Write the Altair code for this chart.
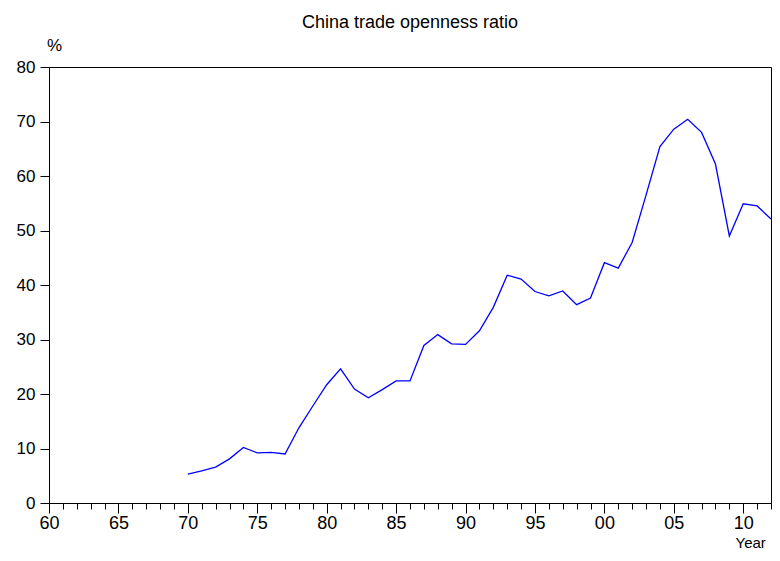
import altair as alt
import pandas as pd

years = list(range(1970, 2013))
openness = [5.3, 5.9, 6.6, 8.1, 10.2,
            9.2, 9.3, 9.0, 13.8, 17.8,
            21.7, 24.6, 20.9, 19.3, 20.8,
            22.4, 22.4, 28.9, 30.9, 29.2,
            29.1, 31.6, 35.9, 41.8, 41.1,
            38.8, 38.0, 38.9, 36.4, 37.6,
            44.1, 43.1, 47.8, 56.5, 65.4,
            68.6, 70.4, 68.0, 62.2, 49.0,
            54.9, 54.5, 52.1]
x_ticks = list(range(1960, 2013))
y_ticks = [0, 10, 20, 30, 40, 50, 60, 70, 80]

df = pd.DataFrame({"year": years, "ratio": openness})

FONT = "Liberation Sans"

chart = alt.Chart(df).mark_line(color="#0000FF", strokeWidth=1.3).encode(
    x=alt.X(
        "year:Q",
        scale=alt.Scale(domain=[1960, 2012], nice=False, zero=False),
        axis=alt.Axis(
            values=x_ticks,
            labelExpr="datum.value % 5 == 0 ? format(datum.value % 100, '02d') : ''",
            tickSize={"condition": {"test": "datum.value % 5 == 0", "value": 10}, "value": 6},
            labelOverlap=False,
            labelFlush=False,
            labelPadding=1,
            labelFontSize=18,
            labelFont=FONT,
            labelColor="black",
            tickColor="black",
            domainColor="black",
            grid=False,
            title="Year",
            titleFont=FONT,
            titleFontSize=15,
            titleFontWeight="normal",
            titleColor="black",
            titleAlign="left",
            titleBaseline="alphabetic",
            titleAnchor="start",
            titleX=686,
            titleY=44,
        ),
    ),
    y=alt.Y(
        "ratio:Q",
        scale=alt.Scale(domain=[0, 80], nice=False),
        axis=alt.Axis(
            values=y_ticks,
            tickSize=9,
            labelPadding=5,
            labelFontSize=17,
            labelFont=FONT,
            labelColor="black",
            tickColor="black",
            domainColor="black",
            grid=False,
            title="%",
            titleFont=FONT,
            titleFontSize=17,
            titleFontWeight="normal",
            titleColor="black",
            titleAngle=0,
            titleAlign="center",
            titleBaseline="alphabetic",
            titleX=5,
            titleY=-17,
        ),
    ),
).properties(
    width=722,
    height=436,
    title=alt.Title(
        "China trade openness ratio",
        fontSize=18,
        font=FONT,
        fontWeight="normal",
        color="black",
        anchor="middle",
        offset=4,
    ),
    autosize=alt.AutoSizeParams(type="none"),
    padding={"left": 41, "top": 59, "right": 1, "bottom": 46},
).configure(
    background="white"
).configure_view(
    stroke="black", strokeWidth=1
)

chart.save("out.html", embed_options={"renderer": "svg", "actions": False})
